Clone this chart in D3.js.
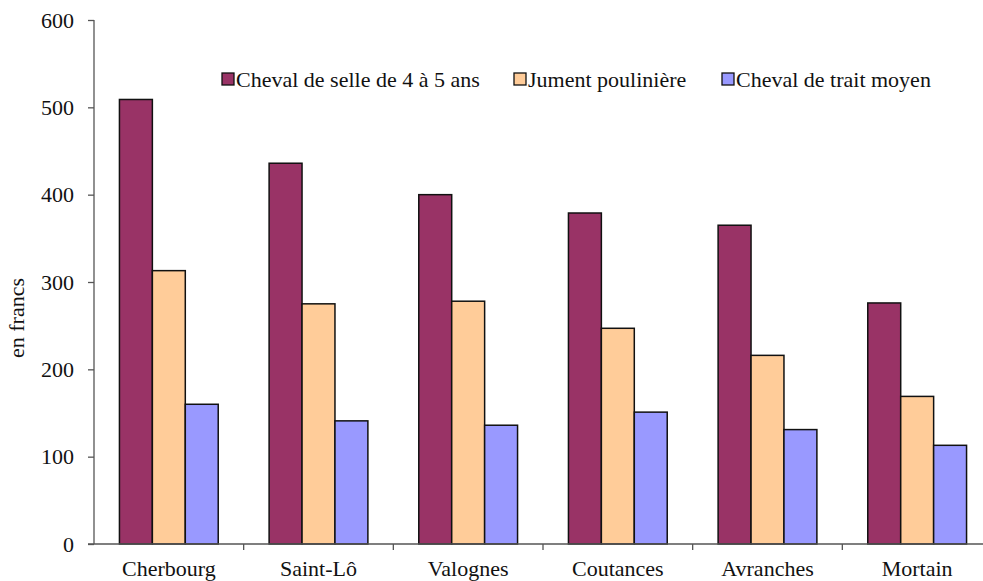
<!DOCTYPE html>
<html><head><meta charset="utf-8">
<script src="https://cdn.jsdelivr.net/npm/d3@7"></script>
<style>body{margin:0;background:#fff}svg{display:block}</style>
</head><body><svg id="c" width="983" height="581"></svg>
<script>
const categories = ["Cherbourg","Saint-Lô","Valognes","Coutances","Avranches","Mortain"];
const seriesNames = ["Cheval de selle de 4 à 5 ans","Jument poulinière","Cheval de trait moyen"];
const selle = [509, 436, 400, 379, 365, 276];
const jument = [313, 275, 278, 247, 216, 169];
const trait = [160, 141, 136, 151, 131, 113];
const colors = ["#993366","#FFCC99","#9999FF"];
const yTicks = [0,100,200,300,400,500,600];

const series = [selle, jument, trait];
const FF = '"Liberation Serif"';
const svg = d3.select("#c");
const x0 = d3.scaleBand().domain(categories).range([94, 992]).paddingInner(0).paddingOuter(0);
const y = d3.scaleLinear().domain([0,600]).range([544, 20]);
const inner = x0.bandwidth()*0.66;
const x1 = d3.scaleBand().domain(d3.range(series.length)).range([0, inner]);

// bars
const g = svg.append("g");
categories.forEach((c,i)=>{
  series.forEach((s,j)=>{
    g.append("rect")
      .attr("x", x0(c) + (x0.bandwidth()-inner)/2 + x1(j))
      .attr("y", y(s[i]))
      .attr("width", x1.bandwidth())
      .attr("height", y(0)-y(s[i]))
      .attr("fill", colors[j]).attr("stroke","#111").attr("stroke-width",1.5);
  });
});

// y axis
const ya = svg.append("g").attr("transform","translate(94,0)")
  .call(d3.axisLeft(y).tickValues(yTicks).tickSize(6).tickPadding(14));
ya.select(".domain").attr("stroke","#555").attr("stroke-width",1.3).attr("d","M0,20V544");
ya.selectAll(".tick line").attr("stroke","#555").attr("stroke-width",1.3);
ya.selectAll("text").style("font-family",FF).style("font-size","22px").attr("fill","#111");

// x axis
const xa = svg.append("g").attr("transform","translate(0,544)");
xa.append("line").attr("x1",88).attr("x2",992).attr("stroke","#555").attr("stroke-width",1.3);
categories.forEach((c,i)=>{
  if(i>0) xa.append("line").attr("x1",x0(c)).attr("x2",x0(c)).attr("y1",0).attr("y2",6).attr("stroke","#555").attr("stroke-width",1.3);
  xa.append("text").attr("x",x0(c)+x0.bandwidth()/2).attr("y",32).attr("text-anchor","middle")
    .style("font-family",FF).style("font-size","22px").attr("fill","#111").text(c);
});

// y label
svg.append("text").attr("transform","translate(24,318) rotate(-90)").attr("text-anchor","middle")
  .style("font-family",FF).style("font-size","22px").attr("fill","#111").text("en francs");

// legend
const legX = [222, 514, 722];
seriesNames.forEach((n,j)=>{
  svg.append("rect").attr("x",legX[j]).attr("y",73).attr("width",12).attr("height",12)
    .attr("fill",colors[j]).attr("stroke","#111").attr("stroke-width",1.3);
  svg.append("text").attr("x",legX[j]+14).attr("y",87)
    .style("font-family",FF).style("font-size","22px").attr("fill","#111").text(n);
});
</script></body></html>
